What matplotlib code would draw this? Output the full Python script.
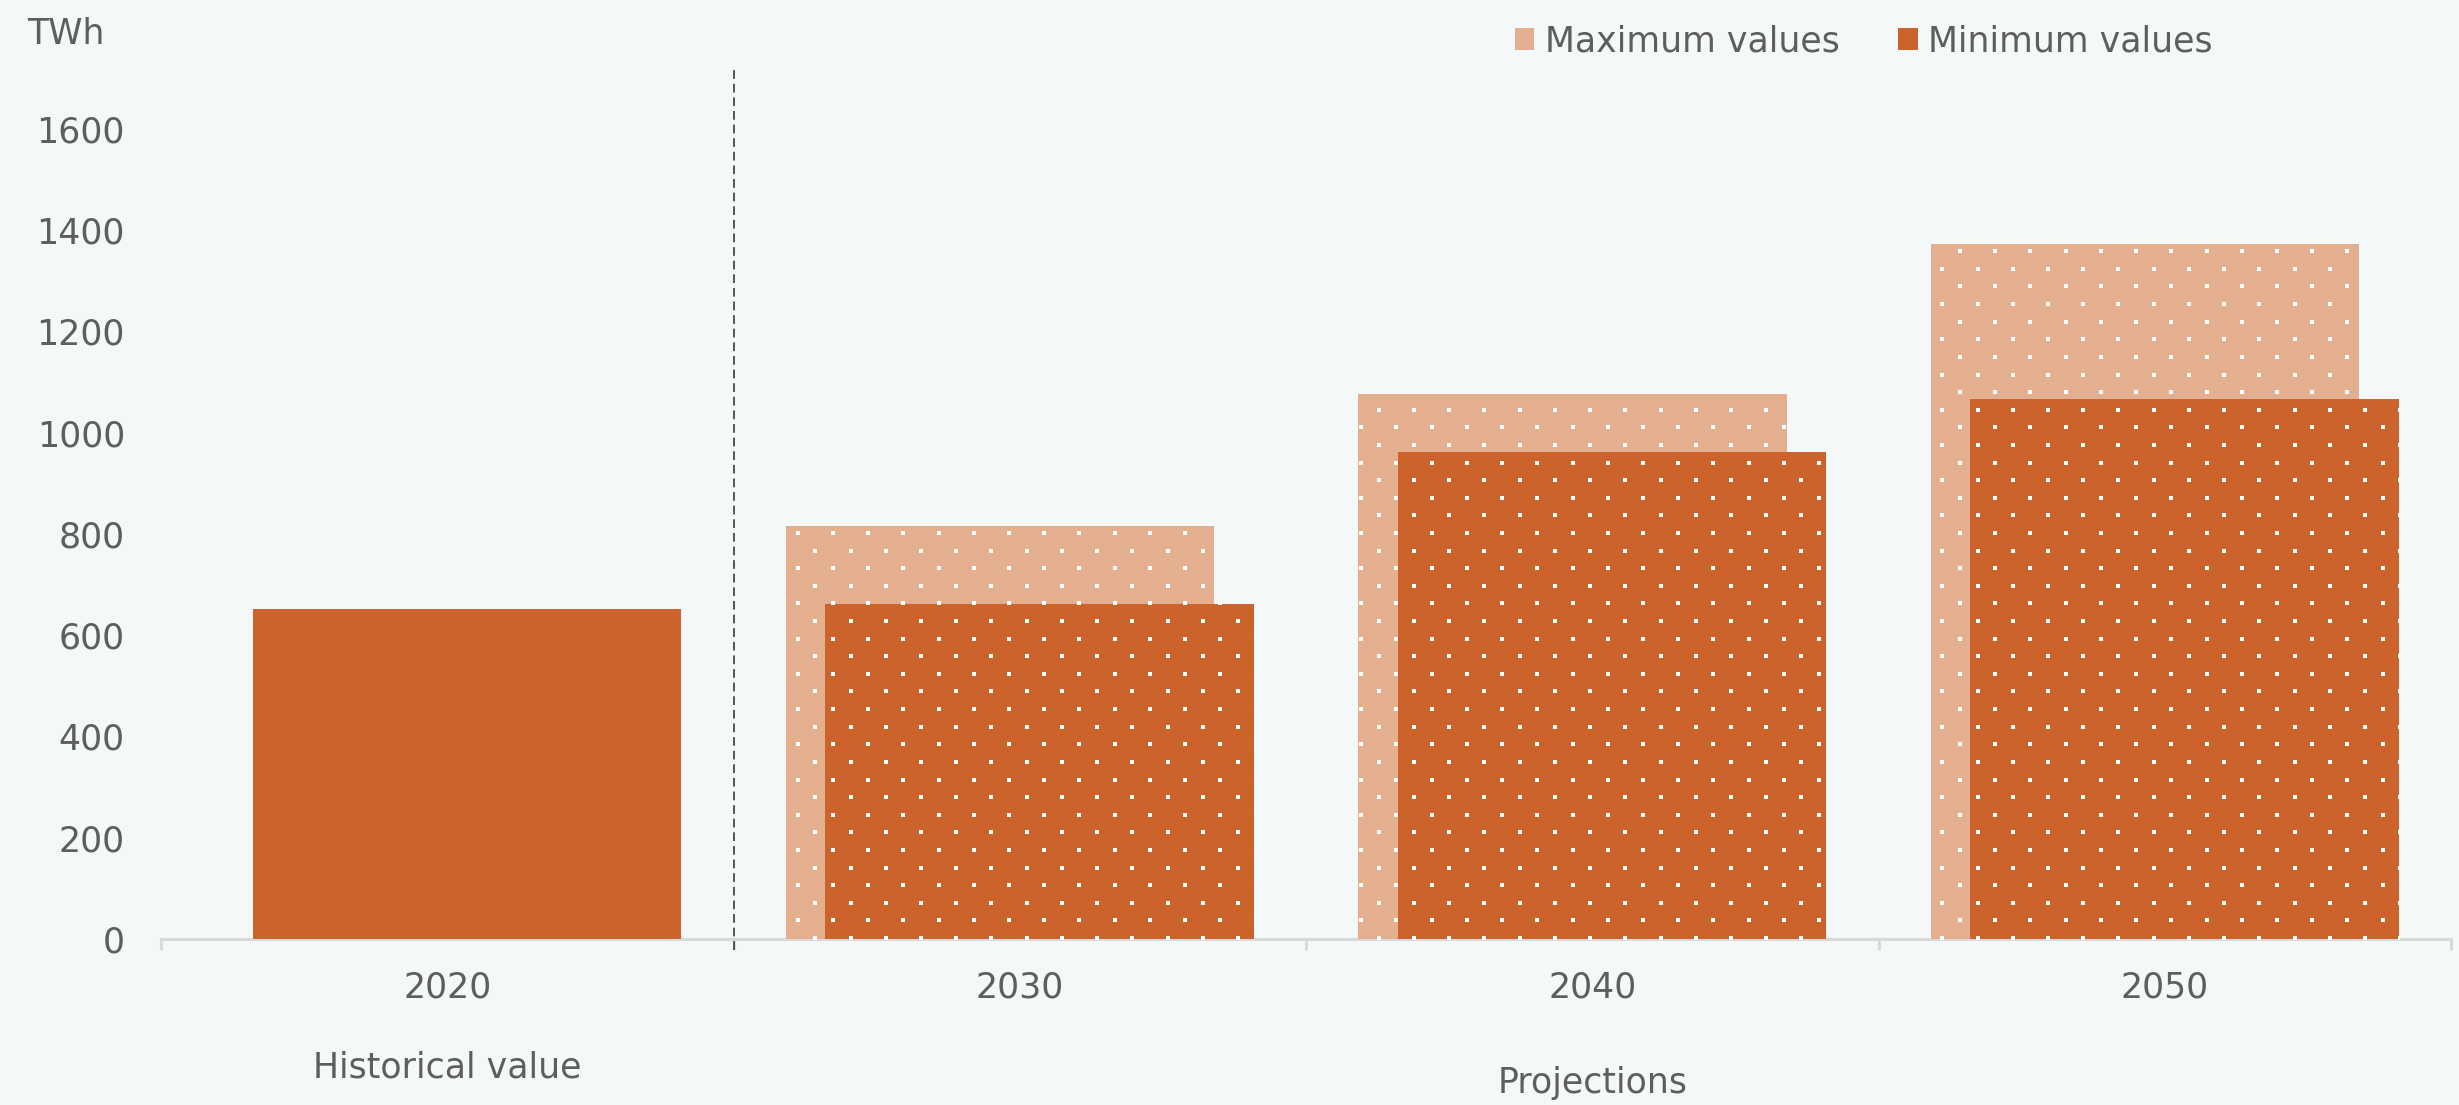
"""
Electricity demand: historical value (2020) and projected range (2030-2050)
Max / min bars overlap, projection bars carry a white dot texture.
"""
import numpy as np
import matplotlib.pyplot as plt
from matplotlib.patches import Patch

# ── data ────────────────────────────────────────────────────────────────────
years = ['2020', '2030', '2040', '2050']
max_values = [np.nan, 815, 1076, 1372]
min_values = [652, 662, 962, 1067]
y_ticks = [0, 200, 400, 600, 800, 1000, 1200, 1400, 1600]

# ── style ───────────────────────────────────────────────────────────────────
MAX_COLOR = '#E4AF8E'
MIN_COLOR = '#CC632D'
BG = '#F5F8F8'
TXT = '#5E5E5E'
AXIS_GREY = '#D9D9D9'
FS = 25

W_PX, H_PX, DPI = 2459, 1105, 100
AX_L, AX_R, AX_B, AX_T = 161, 2451, 939, 67   # pixel frame of the plot area
Y_TOP = 1722

BAR_W = 0.748
OFFSET = 0.0345

plt.rcParams['font.family'] = ['DejaVu Sans']

fig = plt.figure(figsize=(W_PX / DPI, H_PX / DPI), dpi=DPI, facecolor=BG)
ax = fig.add_axes([AX_L / W_PX, 1 - AX_B / H_PX,
                   (AX_R - AX_L) / W_PX, (AX_B - AX_T) / H_PX])
ax.set_facecolor(BG)

x = np.arange(len(years))
bars_max = ax.bar(x - OFFSET, max_values, width=BAR_W, color=MAX_COLOR,
                  linewidth=0, zorder=2)
bars_min = ax.bar(x + OFFSET, min_values, width=BAR_W, color=MIN_COLOR,
                  linewidth=0, zorder=4)

# ── white dot texture (staggered lattice, fixed in pixel space) ─────────────
DOT_DX, DOT_DY = 35.22, 17.61
X0, Y0 = 797.7, H_PX - 533.0
k = np.arange(-int(Y0 / DOT_DY) - 2, int((H_PX - Y0) / DOT_DY) + 2)
m = np.arange(-int(X0 / DOT_DX) - 2, int((W_PX - X0) / DOT_DX) + 2)
kk, mm = np.meshgrid(k, m)
dot_x = (X0 + (kk % 2) * DOT_DX / 2 + mm * DOT_DX).ravel() / DPI
dot_y = (Y0 + kk * DOT_DY).ravel() / DPI


def add_dots(patch, z):
    coll = ax.scatter(dot_x, dot_y, s=10, marker='s', color='white',
                      linewidths=0, transform=fig.dpi_scale_trans, zorder=z)
    coll.set_clip_path(patch)


for i in range(1, len(years)):          # projections only
    add_dots(bars_max.patches[i], 3)
    add_dots(bars_min.patches[i], 5)

# ── divider between historical value and projections ────────────────────────
ax.plot([0.5, 0.5], [-22, Y_TOP], color='#555555', lw=1.4,
        dashes=(4.5, 2.5), clip_on=False, zorder=6)

# ── axes ────────────────────────────────────────────────────────────────────
ax.set_xlim(-0.5, len(years) - 0.5)
ax.set_ylim(0, Y_TOP)
ax.set_yticks(y_ticks)
ax.set_xticks(x)
ax.set_xticklabels(years)
ax.set_xticks(np.arange(-0.5, len(years)), minor=True)
ax.tick_params(axis='y', length=0, pad=26, labelsize=FS, labelcolor=TXT)
ax.tick_params(axis='x', which='major', length=0, pad=23, labelsize=FS,
               labelcolor=TXT)
ax.tick_params(axis='x', which='minor', length=8, width=2.2, color=AXIS_GREY,
               direction='out')
for side in ['left', 'right', 'top']:
    ax.spines[side].set_visible(False)
ax.spines['bottom'].set_color(AXIS_GREY)
ax.spines['bottom'].set_linewidth(2.2)
ax.spines['bottom'].set_zorder(1)

# group labels under the categories
ax.text(0, -0.147, 'Historical value', transform=ax.get_xaxis_transform(),
        ha='center', va='center', fontsize=FS, color=TXT)
ax.text(2, -0.165, 'Projections', transform=ax.get_xaxis_transform(),
        ha='center', va='center', fontsize=FS, color=TXT)

fig.text(27 / W_PX, 1 - 34 / H_PX, 'TWh', ha='left', va='center',
         fontsize=FS, color=TXT)

handles = [Patch(facecolor=MAX_COLOR, edgecolor='none'),
           Patch(facecolor=MIN_COLOR, edgecolor='none')]
fig.legend(handles, ['Maximum values', 'Minimum values'], ncol=2,
           loc='center left', bbox_to_anchor=(1515 / W_PX, 1 - 41 / H_PX),
           frameon=False, fontsize=FS, labelcolor=TXT,
           handlelength=0.55, handleheight=0.6, handletextpad=0.3,
           columnspacing=1.7, borderaxespad=0, borderpad=0)

fig.savefig('out.png', dpi=DPI, facecolor=BG)
